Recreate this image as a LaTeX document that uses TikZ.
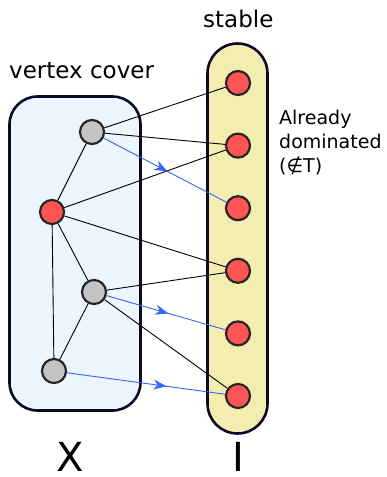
\documentclass[tikz,border=0pt]{standalone}
\usepackage{fontspec}
\setmainfont{DejaVu Sans}
\usetikzlibrary{positioning, arrows.meta, decorations.markings}
\definecolor{coverfill}{HTML}{EDF5FE}
\definecolor{stablefill}{HTML}{F3EDAF}
\definecolor{boxline}{HTML}{0A0A28}
\definecolor{redvertex}{HTML}{FF5454}
\definecolor{grayvertex}{HTML}{C4C4C4}
\definecolor{pushblue}{HTML}{3366FF}
\tikzstyle{coverbox} = [
    rectangle,
    rounded corners=28pt,
    minimum width=131pt,
    minimum height=314pt,
    line width=2.6pt,
    draw=boxline,
    fill=coverfill
]
\tikzstyle{stablebox} = [
    rectangle,
    rounded corners=30pt,
    minimum width=60pt,
    minimum height=390pt,
    line width=2.6pt,
    draw=boxline,
    fill=stablefill
]
\tikzstyle{redv} = [
    circle,
    minimum size=24pt,
    inner sep=0pt,
    line width=2.2pt,
    draw=black!85,
    fill=redvertex
]
\tikzstyle{grayv} = [
    circle,
    minimum size=24pt,
    inner sep=0pt,
    line width=2.2pt,
    draw=black!85,
    fill=grayvertex
]
\tikzstyle{label} = [anchor=base west, inner sep=0pt, font=\fontsize{23}{28}\selectfont]
\tikzstyle{side} = [anchor=base, inner sep=0pt, font=\fontsize{40}{46}\selectfont]
\tikzstyle{edge} = [line width=0.9pt, black]
\tikzset{push/.style={
    line width=0.9pt, draw=pushblue,
    postaction={decorate},
    decoration={markings,
        mark=at position #1 with {\arrow[pushblue]{Stealth[length=13pt,width=10pt,inset=4pt]}}}},
    push/.default=0.52}

\begin{document}
\begin{tikzpicture}[x=1pt, y=-1pt, node distance=62.6pt]
\useasboundingbox (0,0) rectangle (387,477);

% the two sides
\node (cover) [coverbox] at (75,253.5) {};
\node (stable) [stablebox] at (237.5,238.5) {};

\node (vclabel) [label] at (9,78) {vertex cover};
\node (stlabel) [label] at (203,27) {stable};
\node (note) [label, align=left, anchor=north west,
    font=\fontsize{19}{24}\selectfont] at (279,110)
{Already\\dominated\\(∉T)};
\node (xlabel) [side] at (70,471) {X};
\node (ilabel) [side] at (238,471) {I};

% vertex cover
\node (c1) [grayv] at (92,132) {};
\node (c2) [redv] at (52,212) {};
\node (c3) [grayv] at (94,292) {};
\node (c4) [grayv] at (54,371) {};

% stable set
\node (s1) [redv] at (238,83) {};
\node (s2) [redv, below of=s1] {};
\node (s3) [redv, below of=s2] {};
\node (s4) [redv, below of=s3] {};
\node (s5) [redv, below of=s4] {};
\node (s6) [redv, below of=s5] {};

\draw [edge] (c1) -- (c2);
\draw [edge] (c2) -- (c3);
\draw [edge] (c2) -- (c4);
\draw [edge] (c3) -- (c4);

\draw [edge] (c1) -- (s1);
\draw [edge] (c1) -- (s2);
\draw [edge] (c2) -- (s2);
\draw [edge] (c2) -- (s4);
\draw [edge] (c3) -- (s4);
\draw [edge] (c3) -- (s6);

\draw [push] (c1) -- (s3);
\draw [push] (c3) -- (s5);
\draw [push=0.63] (c4) -- (s6);

\end{tikzpicture}
\end{document}
